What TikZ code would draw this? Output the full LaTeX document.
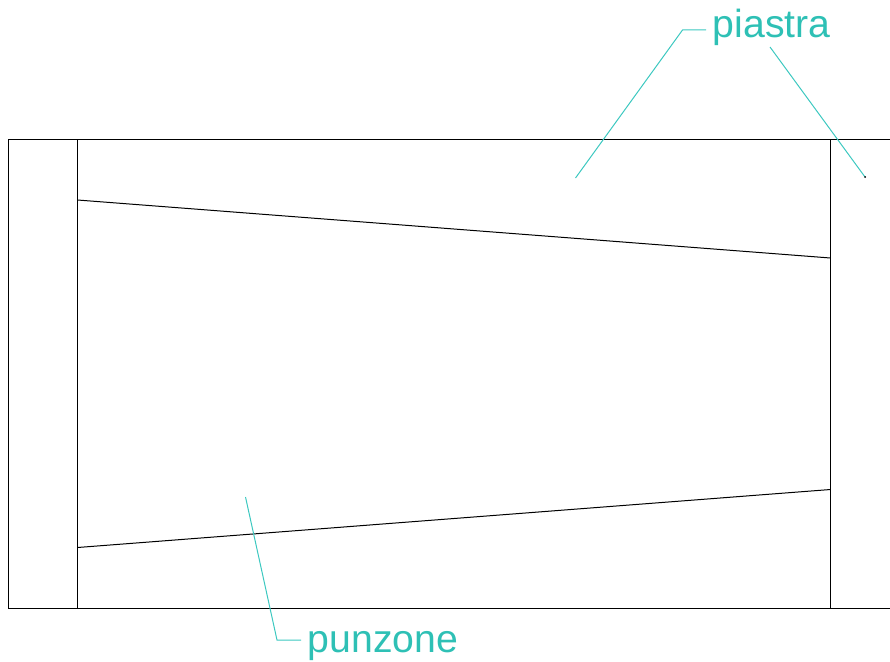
\documentclass[tikz,border=0pt]{standalone}
\usepackage{fontspec}
\setmainfont{Liberation Sans}
\definecolor{labelteal}{HTML}{2EC0B5}
\definecolor{leaderteal}{HTML}{3CC8C0}
\tikzset{
  edge line/.style={draw=black,line width=1pt,line cap=butt},
  leader/.style={draw=leaderteal,line width=1pt},
  callout/.style={text=labelteal,font=\fontsize{39.2pt}{41pt}\selectfont,inner sep=0pt,anchor=base west},
}
\begin{document}
\begin{tikzpicture}[x=1pt,y=-1pt]
\useasboundingbox (0,0) rectangle (890,661);
% outline
\coordinate (tr) at (890,139.5);
\coordinate (tl) at (8,139.5);
\coordinate (bl) at (8,608);
\coordinate (br) at (890,608);
\draw[edge line] (tr) -- (tl) -- (bl) -- (br);
% verticals
\coordinate (lt) at (77.5,139.5);
\coordinate (lb) at (77.5,608);
\coordinate (rt) at (830.5,139.5);
\coordinate (rb) at (830.5,608);
\draw[edge line] (lt) -- (lb);
\draw[edge line] (rt) -- (rb);
% sloped edges
\coordinate (sul) at (77.5,200);
\coordinate (sur) at (830.5,258);
\coordinate (sll) at (77.5,547.5);
\coordinate (slr) at (830.5,489.5);
\draw[edge line] (sul) -- (sur);
\draw[edge line] (sll) -- (slr);
% labels
\node[callout] (piastra) at (712.5,37.5) {piastra};
\node[callout] (punzone) at (307.5,652.5) {punzone};
% leaders
\coordinate (pa) at (706,30);
\coordinate (pb) at (682.5,30);
\coordinate (pc) at (575.5,178);
\coordinate (pd) at (770,47);
\coordinate (pe) at (865,177);
\coordinate (qa) at (301,640);
\coordinate (qb) at (277,640);
\coordinate (qc) at (245.5,497);
\draw[leader] (pa) -- (pb) -- (pc);
\draw[leader] (pd) -- (pe);
\draw[leader] (qa) -- (qb) -- (qc);
\fill[black] (pe) circle (1pt);
\end{tikzpicture}
\end{document}
